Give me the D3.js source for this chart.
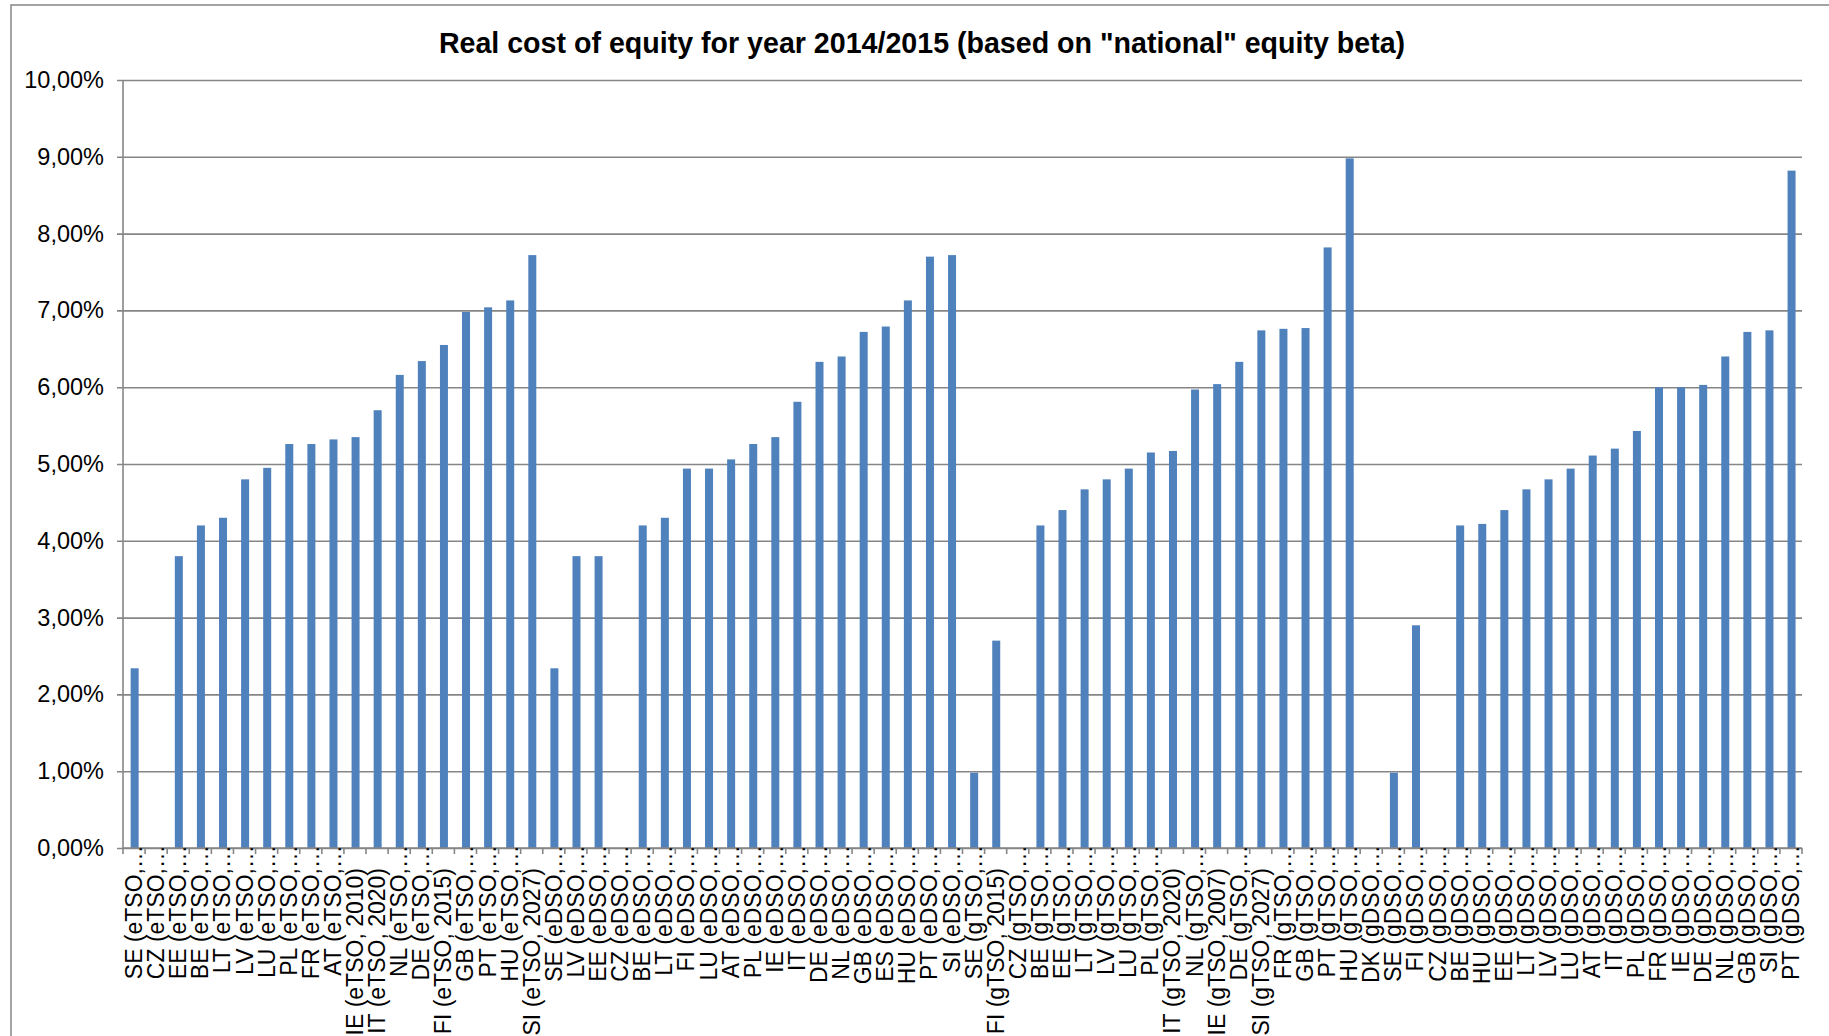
<!DOCTYPE html>
<html>
<head>
<meta charset="utf-8">
<script src="https://cdn.jsdelivr.net/npm/d3@7"></script>
<style>
  html, body { margin: 0; padding: 0; background: #ffffff; }
  svg { display: block; font-family: "Liberation Sans", Arial, sans-serif; }
</style>
</head>
<body>
<svg id="chart" width="1829" height="1036"></svg>
<script>
const chartTitle = 'Real cost of equity for year 2014/2015 (based on "national" equity beta)';

const etsoLabels = ["SE (eTSO,…","CZ (eTSO,…","EE (eTSO,…","BE (eTSO,…","LT (eTSO,…","LV (eTSO,…","LU (eTSO,…","PL (eTSO,…","FR (eTSO,…","AT (eTSO,…","IE (eTSO, 2010)","IT (eTSO, 2020)","NL (eTSO,…","DE (eTSO,…","FI (eTSO, 2015)","GB (eTSO,…","PT (eTSO,…","HU (eTSO,…","SI (eTSO, 2027)"];
const etsoValues = [2.34,0,3.80,4.20,4.30,4.80,4.95,5.26,5.26,5.32,5.35,5.70,6.16,6.34,6.55,6.98,7.04,7.13,7.72];

const edsoLabels = ["SE (eDSO,…","LV (eDSO,…","EE (eDSO,…","CZ (eDSO,…","BE (eDSO,…","LT (eDSO,…","FI (eDSO,…","LU (eDSO,…","AT (eDSO,…","PL (eDSO,…","IE (eDSO,…","IT (eDSO,…","DE (eDSO,…","NL (eDSO,…","GB (eDSO,…","ES (eDSO,…","HU (eDSO,…","PT (eDSO,…","SI (eDSO,…"];
const edsoValues = [2.34,3.80,3.80,0,4.20,4.30,4.94,4.94,5.06,5.26,5.35,5.81,6.33,6.40,6.72,6.79,7.13,7.70,7.72];

const gtsoLabels = ["SE (gTSO,…","FI (gTSO, 2015)","CZ (gTSO,…","BE (gTSO,…","EE (gTSO,…","LT (gTSO,…","LV (gTSO,…","LU (gTSO,…","PL (gTSO,…","IT (gTSO, 2020)","NL (gTSO,…","IE (gTSO, 2007)","DE (gTSO,…","SI (gTSO, 2027)","FR (gTSO,…","GB (gTSO,…","PT (gTSO,…","HU (gTSO,…"];
const gtsoValues = [0.98,2.70,0,4.20,4.40,4.67,4.80,4.94,5.15,5.17,5.97,6.04,6.33,6.74,6.76,6.77,7.82,8.98];

const gdsoLabels = ["DK (gDSO,…","SE (gDSO,…","FI (gDSO,…","CZ (gDSO,…","BE (gDSO,…","HU (gDSO,…","EE (gDSO,…","LT (gDSO,…","LV (gDSO,…","LU (gDSO,…","AT (gDSO,…","IT (gDSO,…","PL (gDSO,…","FR (gDSO,…","IE (gDSO,…","DE (gDSO,…","NL (gDSO,…","GB (gDSO,…","SI (gDSO,…","PT (gDSO,…"];
const gdsoValues = [0,0.98,2.90,0,4.20,4.22,4.40,4.67,4.80,4.94,5.11,5.20,5.43,6.00,6.00,6.03,6.40,6.72,6.74,8.82];

const yTickValues = [0,1,2,3,4,5,6,7,8,9,10];
const yTickLabels = ["0,00%","1,00%","2,00%","3,00%","4,00%","5,00%","6,00%","7,00%","8,00%","9,00%","10,00%"];

const labels = [].concat(etsoLabels, edsoLabels, gtsoLabels, gdsoLabels);
const values = [].concat(etsoValues, edsoValues, gtsoValues, gdsoValues);
const data = labels.map((l, i) => ({ i, label: l, value: values[i] }));

const svg = d3.select("#chart");
const W = 1829, H = 1036;
const plot = { left: 123, right: 1802, top: 80, bottom: 848 };
const gridColor = "#868686";
const barColor = "#4F81BD";

svg.append("rect").attr("width", W).attr("height", H).attr("fill", "#fff");
// outer chart border (extends beyond the picture on right & bottom)
svg.append("rect")
  .attr("x", 11).attr("y", 5).attr("width", W + 20).attr("height", H + 40)
  .attr("fill", "none").attr("stroke", gridColor).attr("stroke-width", 1.5);

const x = d3.scaleBand().domain(d3.range(data.length)).range([plot.left, plot.right]).padding(0);
const y = d3.scaleLinear().domain([0, 10]).range([plot.bottom, plot.top]);

// title
svg.append("text")
  .attr("x", 922).attr("y", 53)
  .attr("text-anchor", "middle")
  .attr("font-size", 28.6).attr("font-weight", "bold").attr("fill", "#000")
  .text(chartTitle);

// y axis with gridlines
const yAxis = d3.axisLeft(y)
  .tickValues(yTickValues)
  .tickSize(-(plot.right - plot.left))
  .tickSizeOuter(0)
  .tickPadding(19)
  .tickFormat((d, i) => yTickLabels[i]);
const gy = svg.append("g").attr("transform", `translate(${plot.left},0)`).call(yAxis);
gy.select(".domain").remove();
gy.selectAll(".tick line").attr("stroke", gridColor).attr("stroke-width", 1.6).attr("x1", -6);
gy.selectAll(".tick text").attr("font-size", 23.5).attr("fill", "#000").attr("font-family", "Liberation Sans, Arial, sans-serif");
svg.append("line").attr("x1", plot.left).attr("x2", plot.left).attr("y1", plot.top).attr("y2", plot.bottom)
  .attr("stroke", gridColor).attr("stroke-width", 1.6);

// bars
const barW = x.step() * 0.362;
svg.append("g").selectAll("rect").data(data).join("rect")
  .attr("x", d => x(d.i) + x.step() / 2 - barW / 2 + 0.6)
  .attr("width", barW)
  .attr("y", d => y(d.value))
  .attr("height", d => y(0) - y(d.value))
  .attr("fill", barColor);

// x axis: line + ticks at category boundaries
svg.append("line").attr("x1", plot.left).attr("x2", plot.right).attr("y1", plot.bottom).attr("y2", plot.bottom)
  .attr("stroke", gridColor).attr("stroke-width", 1.6);
const bounds = d3.range(data.length + 1).map(i => plot.left + i * x.step());
svg.append("g").selectAll("line").data(bounds).join("line")
  .attr("x1", d => d).attr("x2", d => d)
  .attr("y1", plot.bottom).attr("y2", plot.bottom + 6)
  .attr("stroke", gridColor).attr("stroke-width", 1.6);

// x labels, rotated
const labelAnchorY = 868;
const lg = svg.append("g").attr("font-size", 23).attr("fill", "#000");
data.forEach(d => {
  const cx = x(d.i) + x.step() / 2;
  const truncated = d.label.endsWith("…");
  const main = truncated ? d.label.slice(0, -1) : d.label;
  const g = lg.append("g").attr("transform", `translate(${cx},${labelAnchorY}) rotate(-90)`);
  g.append("text").attr("text-anchor", "end").attr("dy", "0.35em").text(main);
  if (truncated) {
    g.append("text").attr("text-anchor", "start").attr("dy", "0.35em").text("…");
  }
});
</script>
</body>
</html>
